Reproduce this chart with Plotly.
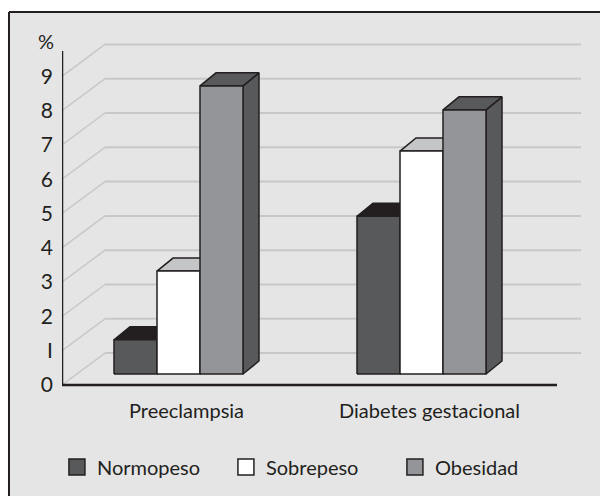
import plotly.graph_objects as go

# ---------------- data ----------------
categories = ["Preeclampsia", "Diabetes gestacional"]
series = ["Normopeso", "Sobrepeso", "Obesidad"]
normopeso = [1.0, 4.6]
sobrepeso = [3.0, 6.5]
obesidad = [8.4, 7.7]
y_ticks = [0, 1, 2, 3, 4, 5, 6, 7, 8, 9]
y_tick_labels = ["0", "I", "2", "3", "4", "5", "6", "7", "8", "9"]
y_unit = "%"

# ---------------- style / geometry ----------------
values = [normopeso, sobrepeso, obesidad]
front_colors = ["#58595b", "#ffffff", "#939598"]
top_colors = ["#231f20", "#c4c5c7", "#58595b"]
side_colors = ["#3a3a3c", "#c4c5c7", "#58595b"]
edge = "#231f20"
grid_col = "#c8c8c8"
FONT = "Lato"

group_centers = [116.5, 359.5]   # x positions (axis units) of the category groups
BAR_W = 43
BAR_DX, BAR_DV = 16, 0.38        # oblique depth of the bars
BAR_BASE = 0.32                  # bars stand inside the floor
WALL_DX, WALL_DV = 43, 0.93      # back wall offset
WALL_END = 519
XAXIS_END = 495
YAXIS_TOP = 9.74

fig = go.Figure()

# back wall gridlines + side diagonals
gx, gy, dx_, dy_ = [], [], [], []
for v in y_ticks:
    gx += [WALL_DX, WALL_END, None]
    gy += [v + WALL_DV, v + WALL_DV, None]
    dx_ += [0, WALL_DX, None]
    dy_ += [v, v + WALL_DV, None]
fig.add_trace(go.Scatter(x=gx, y=gy, mode="lines", line=dict(color=grid_col, width=2),
                         hoverinfo="skip", showlegend=False))
fig.add_trace(go.Scatter(x=dx_, y=dy_, mode="lines", line=dict(color=grid_col, width=1.5),
                         hoverinfo="skip", showlegend=False))

# bars
def poly(xs, ys, color):
    fig.add_trace(go.Scatter(x=xs + [xs[0]], y=ys + [ys[0]], mode="lines", fill="toself",
                             fillcolor=color, line=dict(color=edge, width=1.5),
                             hoverinfo="skip", showlegend=False))

n = len(series)
for ci, gc in enumerate(group_centers):
    left = gc - n * BAR_W / 2
    for si in range(n):
        v = values[si][ci]
        x0 = left + si * BAR_W
        x1 = x0 + BAR_W
        top = BAR_BASE + v
        # side
        poly([x1, x1 + BAR_DX, x1 + BAR_DX, x1],
             [BAR_BASE, BAR_BASE + BAR_DV, top + BAR_DV, top], side_colors[si])
        # top
        poly([x0, x1, x1 + BAR_DX, x0 + BAR_DX],
             [top, top, top + BAR_DV, top + BAR_DV], top_colors[si])
        # front
        poly([x0, x1, x1, x0], [BAR_BASE, BAR_BASE, top, top], front_colors[si])

# axes lines
fig.add_trace(go.Scatter(x=[0, 0, None, 0, XAXIS_END], y=[YAXIS_TOP, 0, None, 0, 0], mode="lines",
                         line=dict(color=edge, width=2.5), hoverinfo="skip", showlegend=False))

# legend entries
for si, name in enumerate(series):
    fig.add_trace(go.Scatter(x=[None], y=[None], mode="markers", name=name,
                             marker=dict(symbol="square", size=16, color=front_colors[si],
                                         line=dict(color=edge, width=1.5))))

fig.add_annotation(x=-0.0303, y=0.997, xref="paper", yref="paper", text=y_unit, showarrow=False,
                   xanchor="center", yanchor="middle",
                   font=dict(family=FONT, size=20, color=edge))

FX0, FX1, FY0, FY1 = -0.1004, 1.2, -0.4, 1.0795
fig.update_layout(
    width=600, height=496,
    margin=dict(l=62, r=10, t=40, b=104),
    paper_bgcolor="white",
    plot_bgcolor="rgba(0,0,0,0)",
    font=dict(family=FONT, size=20, color=edge),
    xaxis=dict(range=[0, 528], showgrid=False, zeroline=False, showline=False,
               tickvals=[g + BAR_DX / 2 for g in group_centers], ticktext=categories,
               ticks="", ticklabelstandoff=5, fixedrange=True),
    yaxis=dict(range=[-0.204, 10.058], showgrid=False, zeroline=False, showline=False,
               tickvals=y_ticks, ticktext=y_tick_labels, ticks="", ticklabelstandoff=8,
               tickfont=dict(size=21), fixedrange=True),
    legend=dict(orientation="h", x=-0.0096, xanchor="left", y=-0.213, yanchor="middle",
                bgcolor="rgba(0,0,0,0)", font=dict(size=20), entrywidth=124,
                itemsizing="trace"),
    shapes=[
        dict(type="rect", xref="paper", yref="paper", x0=FX0, x1=FX1, y0=FY0, y1=FY1,
             fillcolor="#e5e5e5", line=dict(width=0), layer="below"),
        dict(type="line", xref="paper", yref="paper", x0=FX0, x1=FX1, y0=FY1, y1=FY1,
             line=dict(color=edge, width=2), layer="below"),
        dict(type="line", xref="paper", yref="paper", x0=FX0, x1=FX0, y0=FY0, y1=FY1,
             line=dict(color=edge, width=2), layer="below"),
    ],
)

fig.write_html("out.html", config={"displayModeBar": False},
               post_script="document.body.style.margin='0';document.body.style.overflow='hidden';")
